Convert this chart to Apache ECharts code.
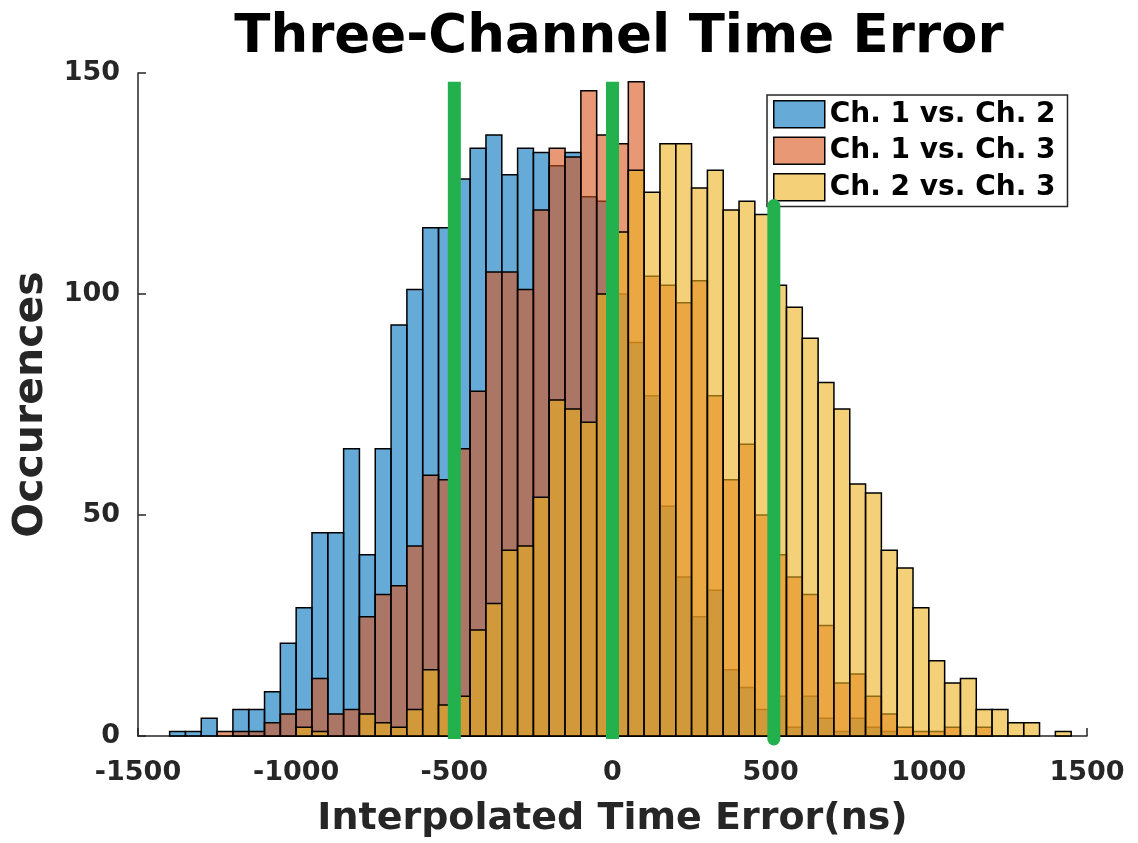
<!DOCTYPE html>
<html>
<head>
<meta charset="utf-8">
<script src="https://cdn.jsdelivr.net/npm/echarts@6/dist/echarts.min.js"></script>
<style>
html,body{margin:0;padding:0;background:#fff;}
#chart{width:1138px;height:843px;}
</style>
</head>
<body>
<div id="chart"></div>
<script>
// Histogram bin left edges (ns), bin width 50 ns
const binLeft = [-1400,-1350,-1300,-1250,-1200,-1150,-1100,-1050,-1000,-950,-900,-850,-800,-750,-700,-650,-600,-550,-500,-450,-400,-350,-300,-250,-200,-150,-100,-50,0,50,100,150,200,250,300,350,400,450,500,550,600,650,700,750,800,850,900,950,1000,1050,1100,1150,1200,1250,1300,1350,1400];
const binWidth = 50;

const seriesNames = ['Ch. 1 vs. Ch. 2', 'Ch. 1 vs. Ch. 3', 'Ch. 2 vs. Ch. 3'];

const ch1vs2 = [1,1,4,0,6,6,10,21,29,46,46,65,41,65,93,101,115,115,126,133,136,127,133,132,129,132,122,121,100,89,77,52,36,27,33,15,11,6,9,2,9,4,1,4,2,1,0,0,0,0,0,0,0,0,0,0,0];
const ch1vs3 = [0,0,0,1,1,1,3,5,6,13,5,6,27,32,34,43,59,58,65,78,105,105,101,119,133,131,146,136,134,148,104,102,98,103,77,58,66,50,41,36,32,25,12,14,9,5,2,1,1,2,0,2,0,0,0,0,0];
const ch2vs3 = [0,0,0,0,0,0,0,0,2,1,0,0,5,3,2,6,15,7,9,24,30,42,43,54,76,74,71,100,114,128,123,134,134,124,128,119,121,118,102,97,90,80,74,57,55,42,38,29,17,12,13,6,6,3,3,0,1];

// Green marker lines: x position and height
const markerX = [-500, 0, 510];
const markerTop = [148, 148, 120];

const xTicks = [-1500, 1500, 500];
const yTicks = [0, 150, 50];

const fills = ['rgba(0,114,189,0.6)', 'rgba(217,83,25,0.6)', 'rgba(237,177,32,0.6)'];
const counts = [ch1vs2, ch1vs3, ch2vs3];

function histData(arr) {
  return binLeft.map((l, i) => [l, l + binWidth, arr[i]]);
}

function makeRender(fill) {
  return function (params, api) {
    const x0 = api.value(0), x1 = api.value(1), c = api.value(2);
    if (!c) return null;
    const p0 = api.coord([x0, c]);
    const p1 = api.coord([x1, 0]);
    return {
      type: 'rect',
      shape: { x: p0[0], y: p0[1], width: p1[0] - p0[0], height: p1[1] - p0[1] },
      style: { fill: fill, stroke: '#000', lineWidth: 1.5 }
    };
  };
}

const FONT = 'DejaVu Sans';
const series = counts.map((arr, k) => ({
  name: seriesNames[k],
  type: 'custom',
  renderItem: makeRender(fills[k]),
  itemStyle: { color: fills[k], borderColor: '#000', borderWidth: 1.5 },
  encode: { x: [0, 1], y: 2 },
  data: histData(arr),
  z: 2 + k,
  silent: true
}));

series.push({
  type: 'custom',
  z: 10,
  silent: true,
  encode: { x: 0, y: 1 },
  data: markerX.map((x, i) => [x, markerTop[i], i]),
  renderItem: function (params, api) {
    const x = api.value(0), top = api.value(1), idx = api.value(2);
    const a = api.coord([x, 0]);
    const b = api.coord([x, top]);
    return {
      type: 'line',
      shape: { x1: a[0], y1: a[1] + 3, x2: b[0], y2: b[1] },
      style: { stroke: '#22b14c', lineWidth: 13, lineCap: idx === 2 ? 'round' : 'butt' }
    };
  }
});

const chart = echarts.init(document.getElementById('chart'), null, { renderer: 'canvas' });
chart.setOption({
  animation: false,
  backgroundColor: '#fff',
  tooltip: { show: false },
  title: {
    text: 'Three-Channel Time Error',
    left: 614,
    textAlign: 'center',
    top: 7,
    textStyle: { fontFamily: FONT, fontWeight: 'bold', fontSize: 53, color: '#000' }
  },
  grid: { left: 138, right: 51, top: 73, bottom: 100, containLabel: false },
  legend: {
    data: seriesNames.map((n, k) => ({ name: n, itemStyle: { color: fills[k], borderColor: '#000', borderWidth: 1.5 } })),
    orient: 'vertical',
    left: 767,
    top: 95,
    padding: [5, 12, 5, 6],
    itemGap: 8,
    itemWidth: 51,
    itemHeight: 27,
    icon: 'rect',
    backgroundColor: '#fff',
    borderColor: '#262626',
    borderWidth: 1.5,
    textStyle: { fontFamily: FONT, fontWeight: 'bold', fontSize: 28, color: '#000' }
  },
  xAxis: {
    type: 'value',
    min: xTicks[0],
    max: xTicks[1],
    interval: xTicks[2],
    name: 'Interpolated Time Error(ns)',
    nameLocation: 'middle',
    nameGap: 64,
    nameTextStyle: { fontFamily: FONT, fontWeight: 'bold', fontSize: 38, color: '#262626' },
    axisLine: { show: true, onZero: false, lineStyle: { color: '#262626', width: 1.5 } },
    axisTick: { show: true, inside: true, length: 8, lineStyle: { color: '#262626', width: 1.5 } },
    axisLabel: { fontFamily: FONT, fontWeight: 'bold', fontSize: 27, color: '#262626', margin: 23, formatter: function (v) { return String(v); } },
    splitLine: { show: false }
  },
  yAxis: {
    type: 'value',
    min: yTicks[0],
    max: yTicks[1],
    interval: yTicks[2],
    name: 'Occurences',
    nameLocation: 'middle',
    nameGap: 86,
    nameTextStyle: { fontFamily: FONT, fontWeight: 'bold', fontSize: 41, color: '#262626' },
    axisLine: { show: true, onZero: false, lineStyle: { color: '#262626', width: 1.5 } },
    axisTick: { show: true, inside: true, length: 8, lineStyle: { color: '#262626', width: 1.5 } },
    axisLabel: { fontFamily: FONT, fontWeight: 'bold', fontSize: 27, color: '#262626', margin: 18, formatter: function (v) { return String(v); } },
    splitLine: { show: false }
  },
  series: series
});
</script>
</body>
</html>
